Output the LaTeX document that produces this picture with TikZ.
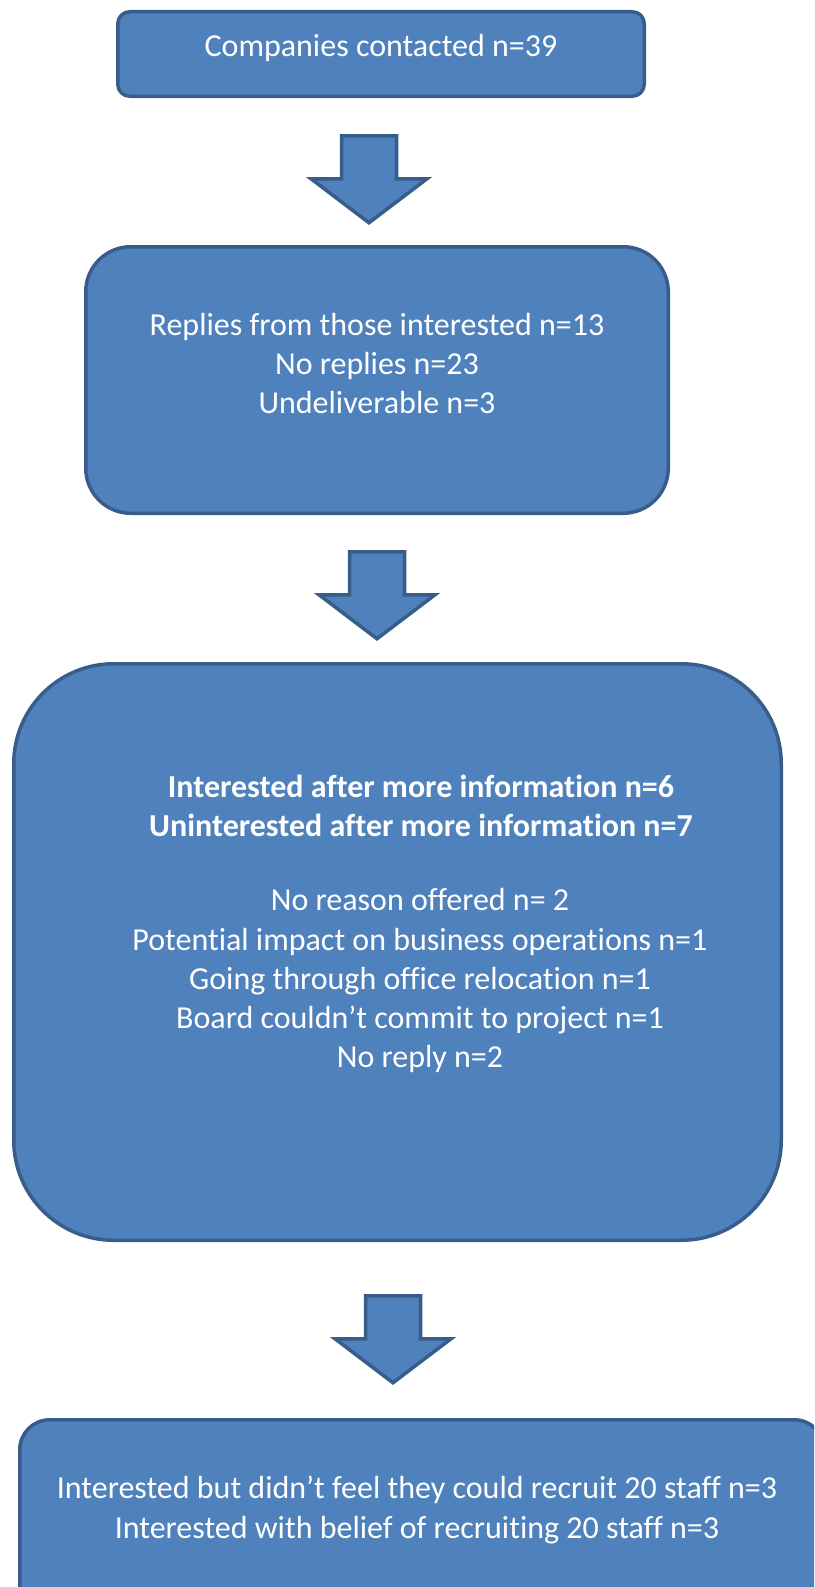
\documentclass[tikz,border=0pt]{standalone}
\usepackage{fontspec}
\setmainfont{Carlito}[Ligatures=NoCommon]
\definecolor{boxfill}{HTML}{4F81BD}
\definecolor{boxline}{HTML}{385D8A}
\begin{document}
\begin{tikzpicture}[x=1pt,y=-1pt,
  flowbox/.style={rectangle,draw=boxline,fill=boxfill,line width=3.5pt,inner sep=0pt},
  label/.style={anchor=base,text=white,inner sep=0pt,font=\fontsize{32}{39}\selectfont},
  boldlabel/.style={label,font=\fontsize{32}{39}\selectfont\bfseries},
  arrowshape/.style={draw=boxline,fill=boxfill,line width=3.5pt,line join=miter},
  blockdown/.pic={
    \path[arrowshape] (-27.5,0) -- (27.5,0) -- (27.5,43) -- (58,43) -- (0,87)
      -- (-58,43) -- (-27.5,43) -- cycle;
  }]
\useasboundingbox (0,0) rectangle (814,1587);
\clip (0,0) rectangle (814,1587);
\fill[white] (0,0) rectangle (814,1587);

% boxes
\node[flowbox,minimum width=526.5,minimum height=84.5,rounded corners=12] (b1) at (381,54) {};
\node[flowbox,minimum width=582.5,minimum height=266.5,rounded corners=45] (b2) at (377,380) {};
\node[flowbox,minimum width=767.5,minimum height=576.5,rounded corners=100] (b3) at (397.5,952) {};
\node[flowbox,minimum width=804.5,minimum height=218.5,rounded corners=30] (b4) at (422,1529) {};

% block arrows between the boxes
\pic at (369,135.75) {blockdown};
\pic at (377,551.75) {blockdown};
\pic at (393,1295.75) {blockdown};

% texts
\node[label] (t1) at (381,57) {Companies contacted n=39};

\node[label] (t2a) at (377,335) {Replies from those interested n=13};
\node[label] (t2b) at (377,374) {No replies n=23};
\node[label] (t2c) at (377,413) {Undeliverable n=3};

\node[boldlabel] (t3a) at (421,797) {Interested after more information n=6};
\node[boldlabel] (t3b) at (421,836) {Uninterested after more information n=7};
\node[label] (t3c) at (420,910) {No reason offered n= 2};
\node[label] (t3d) at (420,950) {Potential impact on business operations n=1};
\node[label] (t3e) at (420,989) {Going through office relocation n=1};
\node[label] (t3f) at (420,1028) {Board couldn’t commit to project n=1};
\node[label] (t3g) at (420,1067) {No reply n=2};

\node[label] (t4a) at (417,1498) {Interested but didn’t feel they could recruit 20 staff n=3};
\node[label] (t4b) at (417,1538) {Interested with belief of recruiting 20 staff n=3};
\end{tikzpicture}
\end{document}
